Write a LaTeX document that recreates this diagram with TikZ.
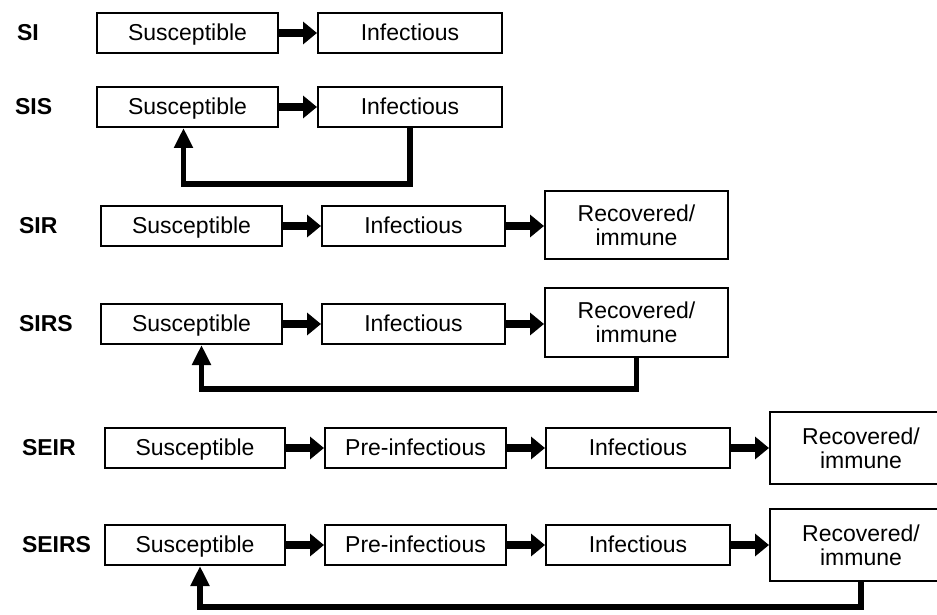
\documentclass[tikz,border=0pt]{standalone}
\usepackage{fontspec}
\setmainfont{Liberation Sans}
\usepackage{tikz}
\usetikzlibrary{arrows.meta, positioning}

\tikzset{
    box/.style={draw, line width=1pt, minimum height=20pt, inner sep=2pt,
        align=center, font=\fontsize{11.5}{12}\selectfont},
    stage/.style={box, text height=8.5pt, text depth=0.8pt},
    model/.style={anchor=west, font=\bfseries\fontsize{11.5}{13}\selectfont},
    flow/.style={-{Triangle[length=7pt, width=11pt]}, line width=3.6pt},
    back/.style={-{Triangle[length=10pt, width=9pt]}, line width=2.6pt},
}

\begin{document}
\begin{tikzpicture}[x=0.5pt, y=-0.5pt]
    \path[use as bounding box, clip] (0,0) rectangle (937,615);

    % SI
    \node[model] (mSI) at (10,33) {SI};
    \node[stage, minimum width=90.5pt] (s1) at (187.5,33) {Susceptible};
    \node[stage, minimum width=92pt] (i1) at (410,33) {Infectious};
    \draw[flow] (s1) -- (i1);

    % SIS
    \node[model] (mSIS) at (8,107) {SIS};
    \node[stage, minimum width=90.5pt] (s2) at (187.5,107) {Susceptible};
    \node[stage, minimum width=92pt] (i2) at (410,107) {Infectious};
    \draw[flow] (s2) -- (i2);
    \draw[back] (i2.south) -- ++(0,56) -| ([xshift=-2pt]s2.south);

    % SIR
    \node[model] (mSIR) at (12,226) {SIR};
    \node[stage, minimum width=90.5pt] (s3) at (191.5,226) {Susceptible};
    \node[stage, minimum width=91.5pt] (i3) at (413.5,226) {Infectious};
    \node[box, minimum width=91.5pt, minimum height=34pt] (r3) at (636.5,225)
        {Recovered/\\immune};
    \draw[flow] (s3) -- (i3);
    \draw[flow] (i3.east) -- (i3.east -| r3.west);

    % SIRS
    \node[model] (mSIRS) at (12,324) {SIRS};
    \node[stage, minimum width=90.5pt] (s4) at (191.5,324) {Susceptible};
    \node[stage, minimum width=91.5pt] (i4) at (413.5,324) {Infectious};
    \node[box, minimum width=91.5pt, minimum height=34.5pt] (r4) at (636.5,322.5)
        {Recovered/\\immune};
    \draw[flow] (s4) -- (i4);
    \draw[flow] (i4.east) -- (i4.east -| r4.west);
    \draw[back] (r4.south) -- (r4.south |- 0,389) -| ([xshift=5pt]s4.south);

    % SEIR
    \node[model] (mSEIR) at (15,448) {SEIR};
    \node[stage, minimum width=90pt] (s5) at (195,448) {Susceptible};
    \node[stage, minimum width=90.5pt] (e5) at (415.5,448) {Pre-infectious};
    \node[stage, minimum width=92pt] (i5) at (638,448) {Infectious};
    \node[box, minimum width=91pt, minimum height=36pt] (r5) at (861,448)
        {Recovered/\\immune};
    \draw[flow] (s5) -- (e5);
    \draw[flow] (e5) -- (i5);
    \draw[flow] (i5) -- (r5);

    % SEIRS
    \node[model] (mSEIRS) at (15,545) {SEIRS};
    \node[stage, minimum width=90pt] (s6) at (195,545) {Susceptible};
    \node[stage, minimum width=90.5pt] (e6) at (415.5,545) {Pre-infectious};
    \node[stage, minimum width=92pt] (i6) at (638,545) {Infectious};
    \node[box, minimum width=91pt, minimum height=36pt] (r6) at (861,545)
        {Recovered/\\immune};
    \draw[flow] (s6) -- (e6);
    \draw[flow] (e6) -- (i6);
    \draw[flow] (i6) -- (r6);
    \draw[back] (r6.south) -- (r6.south |- 0,607) -| ([xshift=2.5pt]s6.south);
\end{tikzpicture}
\end{document}
